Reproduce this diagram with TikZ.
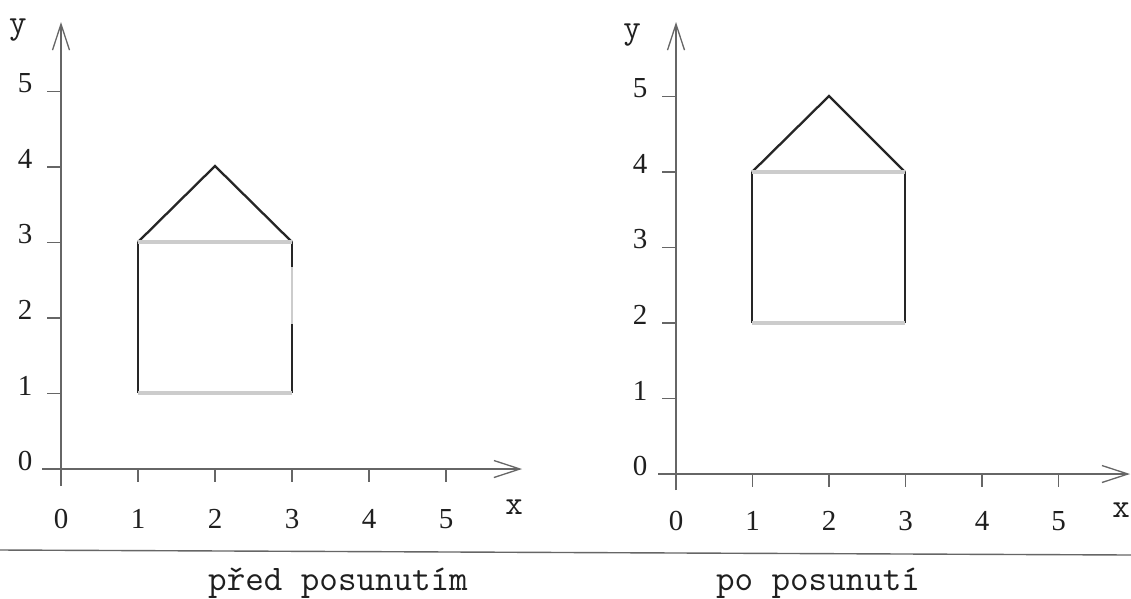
\documentclass[tikz,border=0pt]{standalone}
\usepackage{fontspec}
\setmainfont{Liberation Serif}
\usetikzlibrary{arrows.meta}
\definecolor{axisgray}{gray}{0.4}
\definecolor{edgelight}{gray}{0.8}
\definecolor{edgedark}{gray}{0.15}
\definecolor{inkgray}{gray}{0.12}
\begin{document}
\begin{tikzpicture}[x=1pt,y=-1pt,
  axisline/.style={draw=axisgray, line width=1.3pt,
    -{Straight Barb[length=26pt,width=17pt,line width=1.3pt]}},
  tickmark/.style={draw=axisgray, line width=1.3pt},
  numlabel/.style={text=inkgray, font=\fontsize{29}{32}\selectfont, inner sep=0pt},
  letterlabel/.style={text=inkgray, font=\ttfamily\fontsize{34}{38}\selectfont, inner sep=0pt},
  caption/.style={text=inkgray, font=\ttfamily\fontsize{36}{40}\selectfont, inner sep=0pt, anchor=base},
  darkedge/.style={draw=edgedark, line width=2.8pt},
  roofedge/.style={draw=edgedark, line width=2.3pt, line join=miter},
  lightedge/.style={draw=edgelight, line width=4pt},
  separator/.style={draw=axisgray, line width=1.4pt}]
\useasboundingbox (0,0) rectangle (1131,598);
\fill[white] (0,0) rectangle (1131,598);

% ---------- left plot (before) ----------
\coordinate (LxS) at (42,469);
\coordinate (LxE) at (522,469);
\coordinate (LyS) at (61,486);
\coordinate (LyE) at (61,22);
\draw[axisline] (LxS) -- (LxE);
\draw[axisline] (LyS) -- (LyE);
\foreach \i in {1,...,5} {
  \draw[tickmark] (61+77*\i,469) -- ++(0,13);
  \draw[tickmark] (47,469-75.5*\i) -- (61,469-75.5*\i);
}
\foreach \i in {0,...,5} {
  \node[numlabel] (Lxl\i) at (61+77*\i,519) {\i};
  \node[numlabel] (Lyl\i) at (25,461-75.5*\i) {\i};
}
\node[letterlabel] (Lx) at (514,507) {x};
\node[letterlabel] (Ly) at (18,30) {y};

% house before
\coordinate (LA) at (138,393);
\coordinate (LB) at (292,393);
\coordinate (LC) at (292,242);
\coordinate (LD) at (138,242);
\coordinate (LP) at (215,166);
\coordinate (LC1) at (292,267);
\coordinate (LC2) at (292,324);
\draw[darkedge] (LD) -- (LA);
\draw[darkedge] (LC) -- (LC1);
\draw[lightedge, line width=2.8pt] (LC1) -- (LC2);
\draw[darkedge] (LC2) -- (LB);
\draw[roofedge] (LD) -- (LP) -- (LC);
\draw[lightedge] (LA) -- (LB);
\draw[lightedge] (LD) -- (LC);

% ---------- right plot (after) ----------
\coordinate (RxS) at (658,474);
\coordinate (RxE) at (1130,474);
\coordinate (RyS) at (676,490);
\coordinate (RyE) at (676,22);
\draw[axisline] (RxS) -- (RxE);
\draw[axisline] (RyS) -- (RyE);
\foreach \i in {1,...,5} {
  \draw[tickmark] (676+76.5*\i,474) -- ++(0,13);
  \draw[tickmark] (662,474-75.5*\i) -- (676,474-75.5*\i);
}
\foreach \i in {0,...,5} {
  \node[numlabel] (Rxl\i) at (676+76.5*\i,521) {\i};
  \node[numlabel] (Ryl\i) at (640,466-75.5*\i) {\i};
}
\node[letterlabel] (Rx) at (1121,510) {x};
\node[letterlabel] (Ry) at (632,35) {y};

% house after
\coordinate (RA) at (752,323);
\coordinate (RB) at (905,323);
\coordinate (RC) at (905,172);
\coordinate (RD) at (752,172);
\coordinate (RP) at (829,96);
\draw[darkedge] (RD) -- (RA);
\draw[darkedge] (RC) -- (RB);
\draw[roofedge] (RD) -- (RP) -- (RC);
\draw[lightedge] (RA) -- (RB);
\draw[lightedge] (RD) -- (RC);

% ---------- separator and captions ----------
\coordinate (SepL) at (0,550);
\coordinate (SepR) at (1131,555);
\draw[separator] (SepL) -- (SepR);
\node[caption] (capL) at (338,590) {před posunutím};
\node[caption] (capR) at (818,590) {po posunutí};
\end{tikzpicture}
\end{document}
